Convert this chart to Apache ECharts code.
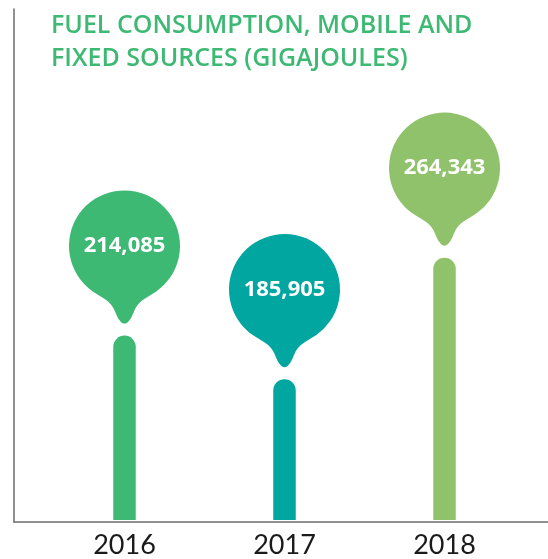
<!DOCTYPE html>
<html>
<head>
<meta charset="utf-8">
<style>
  html, body { margin: 0; padding: 0; background: #ffffff; }
  #chart { width: 548px; height: 559px; }
</style>
<script src="https://cdn.jsdelivr.net/npm/echarts@6/dist/echarts.min.js"></script>
</head>
<body>
<div id="chart"></div>
<script>
// Fuel consumption by year (gigajoules)
const years = ['2016', '2017', '2018'];
const consumption = [214085, 185905, 264343];
const palette = ['#3eb974', '#00a69f', '#8fc26a'];

const titleLines = ['FUEL CONSUMPTION, MOBILE AND', 'FIXED SOURCES (GIGAJOULES)'];

// Balloon marker: circle (r = 55.5) with a narrow, concave pointer whose tip sits at the bottom
const balloonPath = 'path://M23.7,101 A55.5,55.5 0 1 1 87.3,101 ' +
  'C79,106.7 69,110 65,121 C62,129 58.5,133.2 55.5,133.2 ' +
  'C52.5,133.2 49,129 46,121 C42,110 32,106.7 23.7,101 Z';
const balloonW = 111, balloonH = 133.2, circleCenterFromTop = 55.5, tipGap = 12;

const fmt = v => v.toLocaleString('en-US');

const chart = echarts.init(document.getElementById('chart'), null, { renderer: 'canvas' });

chart.setOption({
  backgroundColor: '#ffffff',
  animation: false,
  title: {
    text: titleLines.join('\n'),
    left: 46,
    top: 4,
    textStyle: {
      color: '#3eb974',
      fontFamily: 'Open Sans',
      fontWeight: 600,
      fontSize: 25,
      lineHeight: 33
    }
  },
  grid: [
    { left: 44.5, right: 23.5, top: 40, bottom: 37 },
    { left: 14, right: 0, top: 9, bottom: 37 }
  ],
  xAxis: [
    {
      type: 'category',
      gridIndex: 0,
      data: years,
      axisLine: { show: false },
      axisTick: { show: false },
      axisLabel: {
        margin: 12,
        color: '#1a1a1a',
        fontFamily: 'Lato',
        fontSize: 27
      }
    },
    {
      type: 'value',
      gridIndex: 1,
      min: 0, max: 1,
      axisLine: { show: true, onZero: false, lineStyle: { color: '#6d6d6d', width: 1.5 } },
      axisTick: { show: false },
      axisLabel: { show: false },
      splitLine: { show: false }
    }
  ],
  yAxis: [
    {
      type: 'value',
      gridIndex: 0,
      min: 95000,
      max: 405000,
      show: false
    },
    {
      type: 'value',
      gridIndex: 1,
      min: 0, max: 1,
      axisLine: { show: true, onZero: false, lineStyle: { color: '#6d6d6d', width: 1.5 } },
      axisTick: { show: false },
      axisLabel: { show: false },
      splitLine: { show: false }
    }
  ],
  series: [
    {
      type: 'bar',
      xAxisIndex: 0,
      yAxisIndex: 0,
      barWidth: 22.5,
      data: consumption.map((v, i) => ({
        value: v,
        itemStyle: { color: palette[i], borderRadius: [11.25, 11.25, 0, 0] }
      })),
      z: 2
    },
    {
      type: 'scatter',
      xAxisIndex: 0,
      yAxisIndex: 0,
      symbol: balloonPath,
      symbolSize: [balloonW, balloonH],
      symbolOffset: [0, -(balloonH / 2 + tipGap)],
      data: consumption.map((v, i) => ({
        value: v,
        itemStyle: { color: palette[i], opacity: 1 }
      })),
      label: {
        show: true,
        position: 'inside',
        offset: [0, circleCenterFromTop - balloonH / 2],
        formatter: p => fmt(p.value),
        color: '#ffffff',
        fontFamily: 'Open Sans',
        fontWeight: 700,
        fontSize: 22
      },
      emphasis: { disabled: true },
      z: 3
    }
  ]
});
</script>
</body>
</html>
